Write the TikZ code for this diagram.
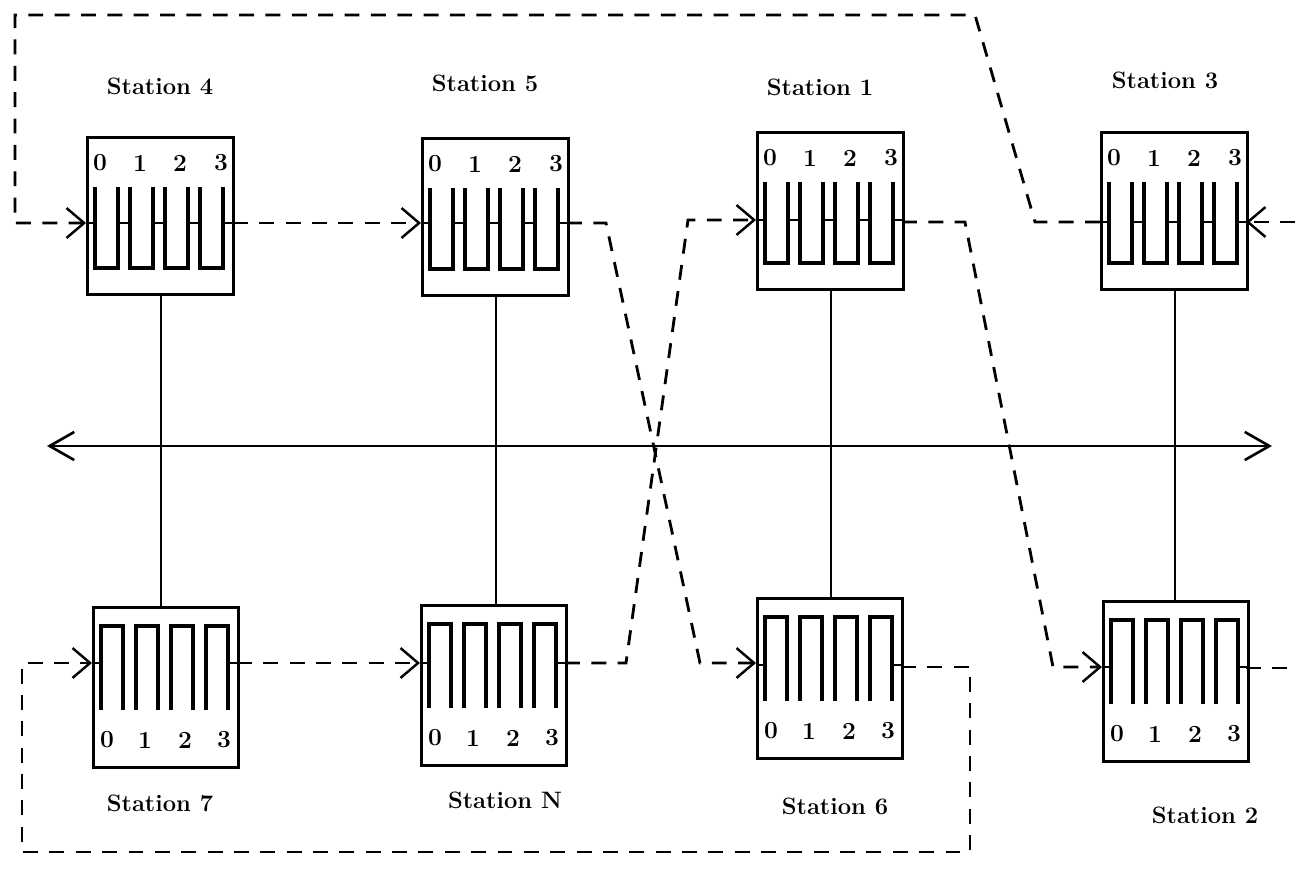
\documentclass[tikz,border=0pt]{standalone}
\usetikzlibrary{arrows.meta}
\tikzset{
  stbox/.style={draw, line width=1.9pt, inner sep=0pt, anchor=north west},
  topbox/.style={stbox, minimum width=2.92cm, minimum height=3.14cm},
  botbox/.style={stbox, minimum width=2.9cm, minimum height=3.2cm},
  serp/.style={line width=2.1pt, line join=miter},
  thinlink/.style={line width=0.8pt},
  digit/.style={font=\fontsize{14}{16}\selectfont\bfseries, inner sep=0pt},
  stlabel/.style={font=\fontsize{13.5}{16}\selectfont\bfseries, inner sep=0pt},
  dline/.style={line width=1.6pt, dash pattern=on 8.5pt off 6.5pt},
  ring/.style={dline, -{Straight Barb[length=10pt,width=17pt,line width=1.4pt]}},
  solidline/.style={line width=1.3pt},
  bus/.style={line width=1.2pt, {Straight Barb[length=14pt,width=16pt,line width=1.5pt]}-{Straight Barb[length=14pt,width=16pt,line width=1.5pt]}}
}
% U-shaped serpentine (top row), #1,#2 = box top-left, #3 = port offset, #4 = name prefix
\newcommand\serpU[4]{%
\begin{scope}[shift={(#1,#2)}]
  \foreach \a/\b in {9/32,44/67,79/102,114/137}{
    \draw[serp] (\a,51) -- (\a,132) -- (\b,132) -- (\b,51);}
  \foreach \a/\b in {0/9,32/44,67/79,102/114,137/147}{
    \draw[thinlink] (\a,#3) -- (\b,#3);}
  \node[digit] (#4d0) at (14,27) {0};
  \node[digit] (#4d1) at (54,27) {1};
  \node[digit] (#4d2) at (94,27) {2};
  \node[digit] (#4d3) at (135,27) {3};
\end{scope}}
% inverted-U serpentine (bottom row)
\newcommand\serpN[4]{%
\begin{scope}[shift={(#1,#2)}]
  \foreach \a/\b in {9/31,44/66,79/101,114/136}{
    \draw[serp] (\a,104) -- (\a,20) -- (\b,20) -- (\b,104);}
  \foreach \a/\b in {0/9,136/145}{
    \draw[thinlink] (\a,#3) -- (\b,#3);}
  \node[digit] (#4d0) at (15,134) {0};
  \node[digit] (#4d1) at (53,134) {1};
  \node[digit] (#4d2) at (93,134) {2};
  \node[digit] (#4d3) at (132,134) {3};
\end{scope}}
\begin{document}
\begin{tikzpicture}[x=0.02cm,y=-0.02cm]
\useasboundingbox (0,0) rectangle (1295,872);

% station boxes, top row
\node[topbox] (s4) at (86,136) {};
\node[topbox] (s5) at (421,137) {};
\node[topbox] (s1) at (756,131) {};
\node[topbox] (s3) at (1100,131) {};
% bottom row
\node[botbox] (s7) at (92,606) {};
\node[botbox] (sN) at (420,604) {};
\node[botbox] (s6) at (756,597) {};
\node[botbox] (s2) at (1102,600) {};

\serpU{86}{136}{87}{a}
\serpU{421}{137}{86}{b}
\serpU{756}{131}{89}{c}
\serpU{1100}{131}{91}{d}
\serpN{92}{606}{57}{e}
\serpN{420}{604}{59}{f}
\serpN{756}{597}{68}{g}
\serpN{1102}{600}{67}{h}

% labels
\node[stlabel] (l4) at (160,86) {Station 4};
\node[stlabel] (l5) at (485,83) {Station 5};
\node[stlabel] (l1) at (820,87) {Station 1};
\node[stlabel] (l3) at (1165,80) {Station 3};
\node[stlabel] (l7) at (160,803) {Station 7};
\node[stlabel] (lN) at (505,800) {Station N};
\node[stlabel] (l6) at (835,806) {Station 6};
\node[stlabel] (l2) at (1205,815) {Station 2};

% vertical links to the bus
\draw[solidline] (s4.south) -- (s4.south |- s7.north);
\draw[solidline] (s5.south) -- (s5.south |- sN.north);
\draw[solidline] (s1.south) -- (s1.south |- s6.north);
\draw[solidline] (s3.south) -- (s3.south |- s2.north);

% bus
\coordinate (busL) at (47,446);
\coordinate (busR) at (1272,446);
\draw[bus] (busL) -- (busR);

% ports
\coordinate (s4in) at (86,223);
\coordinate (s4out) at (233,223);
\coordinate (s5in) at (421,223);
\coordinate (s5out) at (567,223);
\coordinate (s1in) at (756,220);
\coordinate (s1out) at (902,222);
\coordinate (s3out) at (1100,222);
\coordinate (s3in) at (1246,222);
\coordinate (s7in) at (92,663);
\coordinate (s7out) at (237,663);
\coordinate (sNin) at (420,663);
\coordinate (sNout) at (565,663);
\coordinate (s6in) at (756,663);
\coordinate (s6out) at (901,667);
\coordinate (s2in) at (1102,667);
\coordinate (s2out) at (1246,668);
\coordinate (edgeR1) at (1295,222);
\coordinate (edgeR2) at (1295,668);

% ring (dashed) connections
\draw[ring] (s3out) -- (1035,222) -- (975,15) -- (15,15) -- (15,223) -- (s4in);
\draw[ring] (s4out) -- (s5in);
\draw[ring] (s5out) -- (606,223) -- (700,663) -- (s6in);
\draw[ring] (s6out) -- (970,667) -- (970,852) -- (22,852) -- (22,663) -- (s7in);
\draw[ring] (s7out) -- (sNin);
\draw[ring] (sNout) -- (626,663) -- (688,220) -- (s1in);
\draw[ring] (s1out) -- (965,222) -- (1053,667) -- (s2in);
\draw[dline] (s2out) -- (edgeR2);
\draw[ring] (edgeR1) -- (s3in);
\end{tikzpicture}
\end{document}
